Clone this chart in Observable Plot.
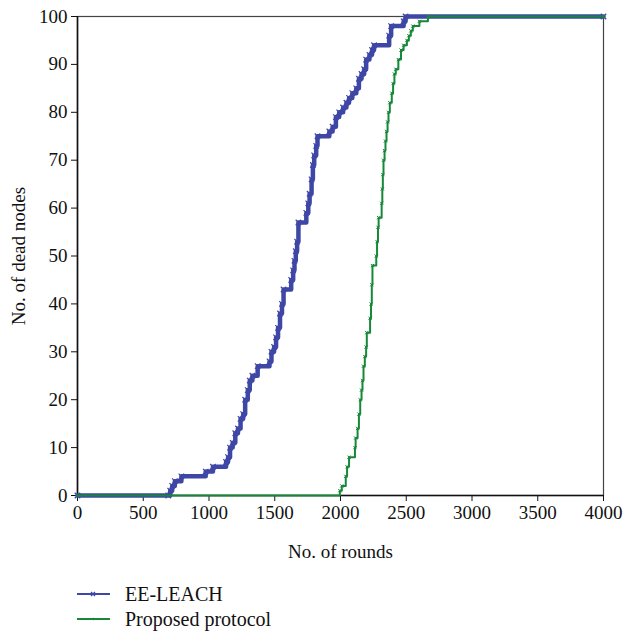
<!DOCTYPE html>
<html>
<head>
<meta charset="utf-8">
<script src="https://cdn.jsdelivr.net/npm/d3@7"></script>
<script src="https://cdn.jsdelivr.net/npm/@observablehq/plot@0.6"></script>
<style>
  body { margin: 0; background: #fff; }
  #wrap { position: relative; width: 623px; height: 633px; font-family: "Liberation Serif", serif; }
  #legend { position: absolute; left: 0; top: 580px; width: 623px; }
  .row { position: absolute; left: 0; height: 24px; display: flex; align-items: center; }
  .row svg { display: block; }
  .row span { font-size: 20px; color: #111; margin-left: 13px; }
</style>
</head>
<body>
<div id="wrap"><div id="chart"></div><div id="legend"></div></div>
<script>
// EE-LEACH (step points: round, dead nodes)
const eeRounds = [0, 690, 705, 720, 740, 790, 975, 1030, 1130, 1145, 1160, 1180, 1200, 1220, 1240, 1260, 1275, 1295, 1310, 1330, 1370, 1460, 1475, 1495, 1510, 1525, 1540, 1555, 1567, 1625, 1640, 1650, 1660, 1670, 1680, 1740, 1755, 1765, 1780, 1790, 1800, 1815, 1825, 1915, 1940, 1965, 1990, 2020, 2045, 2065, 2090, 2120, 2140, 2160, 2180, 2195, 2220, 2240, 2255, 2370, 2385, 2480, 2495, 4000];
const eeDead   = [0, 0, 1, 2, 3, 4, 5, 6, 7, 8, 10, 11, 13, 14, 16, 17, 20, 22, 24, 25, 27, 28, 30, 31, 33, 35, 38, 40, 43, 45, 47, 49, 51, 53, 57, 59, 61, 63, 66, 69, 71, 73, 75, 76, 77, 79, 80, 81, 82, 83, 84, 85, 87, 88, 89, 91, 92, 93, 94, 96, 98, 99, 100, 100];
// Proposed protocol
const ppRounds = [0, 1995, 2010, 2040, 2050, 2065, 2110, 2115, 2130, 2140, 2150, 2160, 2167, 2175, 2185, 2195, 2200, 2225, 2232, 2238, 2243, 2272, 2278, 2285, 2290, 2313, 2318, 2322, 2327, 2335, 2342, 2350, 2358, 2365, 2375, 2390, 2400, 2410, 2420, 2440, 2460, 2480, 2505, 2520, 2535, 2550, 2600, 2665, 4000];
const ppDead   = [0, 1, 2, 4, 6, 8, 10, 12, 14, 17, 20, 22, 24, 27, 29, 31, 34, 37, 40, 44, 48, 50, 53, 56, 58, 61, 64, 67, 70, 72, 74, 76, 78, 80, 82, 84, 86, 88, 89, 91, 93, 94, 95, 96, 97, 98, 99, 100, 100];
const xTicks = [0, 500, 1000, 1500, 2000, 2500, 3000, 3500, 4000];
const yTicks = [0, 10, 20, 30, 40, 50, 60, 70, 80, 90, 100];
const seriesNames = ["EE-LEACH", "Proposed protocol"];
const blue = "#3f47a6", green = "#17883a";

const ee = eeRounds.map((r, i) => ({round: r, dead: eeDead[i]}));
const pp = ppRounds.map((r, i) => ({round: r, dead: ppDead[i]}));

const chart = Plot.plot({
  width: 623, height: 570,
  marginLeft: 77, marginRight: 20, marginTop: 16, marginBottom: 75,
  style: {fontFamily: "Liberation Serif, serif", fontSize: "19px", color: "#111", background: "#fff"},
  x: {domain: [0, 4000]},
  y: {domain: [0, 100]},
  marks: [
    Plot.frame({stroke: "#444", strokeWidth: 1.2}),
    Plot.axisX({ticks: xTicks, tickFormat: d3.format("d"), tickSize: 6, tickPadding: 4, fontSize: 19,
      label: "No. of rounds", labelAnchor: "center", labelArrow: "none", labelOffset: 62, fontSize: 19}),
    Plot.axisY({ticks: yTicks, tickFormat: d3.format("d"), tickSize: 6, tickPadding: 4, fontSize: 19,
      label: "No. of dead nodes", labelAnchor: "center", labelArrow: "none", labelOffset: 66}),
    Plot.ruleX([0], {stroke: "#111", strokeWidth: 1.6}),
    Plot.ruleY([0], {stroke: "#111", strokeWidth: 1.6}),
    Plot.line(ee, {x: "round", y: "dead", curve: "step-after", stroke: blue, strokeWidth: 4.5}),
    Plot.dot(ee, {x: "round", y: "dead", symbol: "times", r: 2.6, stroke: blue, strokeWidth: 1.2}),
    Plot.line(pp, {x: "round", y: "dead", curve: "step-after", stroke: green, strokeWidth: 2}),
    Plot.dot(pp, {x: "round", y: "dead", symbol: "times", r: 1.6, stroke: green, strokeWidth: 1})
  ]
});
document.getElementById("chart").appendChild(chart);

// Legend
const legend = document.getElementById("legend");
const colors = [blue, green];
const widths = [2, 2];
seriesNames.forEach((name, i) => {
  const row = document.createElement("div");
  row.className = "row";
  row.style.top = (i * 25 + 2) + "px";
  row.innerHTML = `<svg width="112" height="24"><line x1="77" x2="110" y1="12" y2="12" stroke="${colors[i]}" stroke-width="${widths[i]}"/>` +
    (i === 0 ? `<path d="M91,10 L95,14 M95,10 L91,14" stroke="${colors[i]}" stroke-width="1.3"/>` : `<circle cx="93.5" cy="12" r="1.2" fill="${colors[i]}"/>`) +
    `</svg><span>${name}</span>`;
  legend.appendChild(row);
});
</script>
</body>
</html>
